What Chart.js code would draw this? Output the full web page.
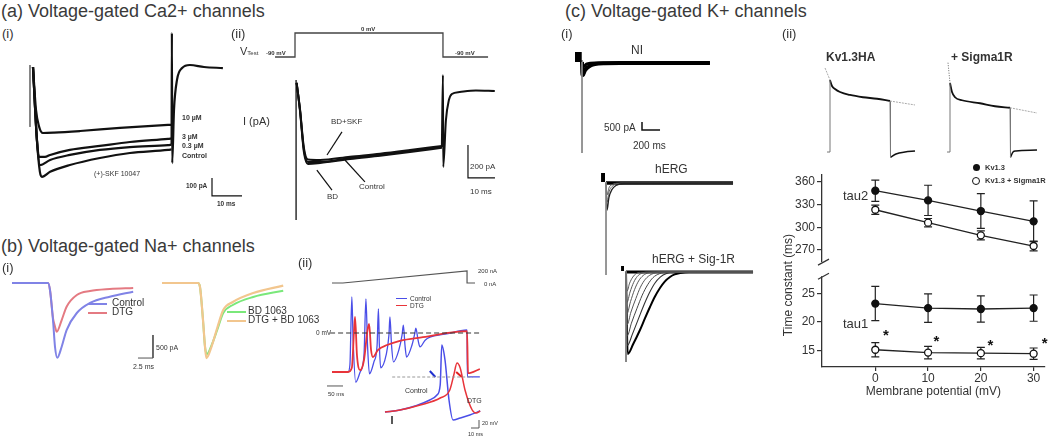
<!DOCTYPE html>
<html>
<head>
<meta charset="utf-8">
<script src="https://cdn.jsdelivr.net/npm/chart.js@4.4.1/dist/chart.umd.min.js"></script>
<style>
  body { margin: 0; background: #fff; }
  #fig { position: relative; width: 1050px; height: 439px; overflow: hidden; font-family: "Liberation Sans", Arial, sans-serif; color: #333; }
  canvas { position: absolute; }
  .t { position: absolute; white-space: nowrap; line-height: 1; z-index: 2; }
  .h { font-size: 18px; color: #3a3a3a; }
  .s { font-size: 13px; color: #333; }
  .b { font-weight: bold; }
  .sw { position: absolute; height: 0; width: 19px; border-top: 2px solid; z-index: 2; }
</style>
</head>
<body>
<div id="fig">

  <!-- trace panels -->
  <canvas id="caChart" width="225" height="190" style="left:20px;top:25px"></canvas>
  <canvas id="vStepChart" width="225" height="40" style="left:270px;top:25px"></canvas>
  <canvas id="caCurrentChart" width="230" height="155" style="left:270px;top:70px"></canvas>
  <canvas id="naLeftChart" width="155" height="95" style="left:5px;top:270px"></canvas>
  <canvas id="naRightChart" width="135" height="95" style="left:155px;top:270px"></canvas>
  <canvas id="rampChart" width="165" height="25" style="left:320px;top:265px"></canvas>
  <canvas id="apChart" width="165" height="100" style="left:320px;top:290px"></canvas>
  <canvas id="apInsetChart" width="105" height="95" style="left:380px;top:335px"></canvas>
  <canvas id="niChart" width="145" height="115" style="left:570px;top:45px"></canvas>
  <canvas id="hergChart" width="145" height="115" style="left:595px;top:165px"></canvas>
  <canvas id="hergSigChart" width="145" height="115" style="left:615px;top:255px"></canvas>
  <canvas id="kvChart" width="110" height="110" style="left:815px;top:55px"></canvas>
  <canvas id="kvSigChart" width="110" height="110" style="left:935px;top:55px"></canvas>
  <canvas id="tauChart" width="270" height="279" style="left:780px;top:160px"></canvas>

  <!-- headings -->
  <div class="t h" style="left:1px;top:2px">(a) Voltage-gated Ca2+ channels</div>
  <div class="t h" style="left:1px;top:237px">(b) Voltage-gated Na+ channels</div>
  <div class="t h" style="left:565px;top:2px">(c) Voltage-gated K+ channels</div>
  <div class="t s" style="left:2px;top:27px">(i)</div>
  <div class="t s" style="left:231px;top:27px">(ii)</div>
  <div class="t s" style="left:2px;top:261px">(i)</div>
  <div class="t s" style="left:298px;top:256px">(ii)</div>
  <div class="t s" style="left:561px;top:27px">(i)</div>
  <div class="t s" style="left:782px;top:27px">(ii)</div>

  <!-- (a)(i) -->
  <div class="t b" style="left:182px;top:114px;font-size:7px">10 µM</div>
  <div class="t b" style="left:182px;top:133px;font-size:7px">3 µM</div>
  <div class="t b" style="left:182px;top:142px;font-size:7px">0.3 µM</div>
  <div class="t b" style="left:182px;top:152px;font-size:7px">Control</div>
  <div class="t" style="left:94px;top:170px;font-size:7px">(+)-SKF 10047</div>
  <div class="t b" style="left:186px;top:183px;font-size:6.5px">100 pA</div>
  <div class="t b" style="left:217px;top:201px;font-size:6.5px">10 ms</div>

  <!-- (a)(ii) -->
  <div class="t" style="left:240px;top:46px;font-size:11px">V<span style="font-size:6px">Test</span></div>
  <div class="t b" style="left:266px;top:50px;font-size:6px">-90 mV</div>
  <div class="t b" style="left:361px;top:26px;font-size:6px">0 mV</div>
  <div class="t b" style="left:455px;top:50px;font-size:6px">-90 mV</div>
  <div class="t" style="left:243px;top:116px;font-size:11px">I (pA)</div>
  <div class="t" style="left:331px;top:118px;font-size:8px">BD+SKF</div>
  <div class="t" style="left:359px;top:183px;font-size:8px">Control</div>
  <div class="t" style="left:327px;top:193px;font-size:8px">BD</div>
  <div class="t" style="left:470px;top:163px;font-size:8px">200 pA</div>
  <div class="t" style="left:470px;top:188px;font-size:8px">10 ms</div>

  <!-- (b)(i) -->
  <div class="sw" style="left:88px;top:303px;border-color:#8083e6"></div>
  <div class="t" style="left:112px;top:298px;font-size:10px">Control</div>
  <div class="sw" style="left:88px;top:312px;border-color:#e47a82"></div>
  <div class="t" style="left:112px;top:307px;font-size:10px">DTG</div>
  <div class="sw" style="left:227px;top:311px;border-color:#7ae87a"></div>
  <div class="t" style="left:248px;top:306px;font-size:10px">BD 1063</div>
  <div class="sw" style="left:227px;top:320px;border-color:#f2c68e"></div>
  <div class="t" style="left:248px;top:315px;font-size:10px">DTG + BD 1063</div>
  <div class="t" style="left:156px;top:344px;font-size:7px">500 pA</div>
  <div class="t" style="left:133px;top:363px;font-size:7px">2.5 ms</div>

  <!-- (b)(ii) -->
  <div class="t" style="left:478px;top:268px;font-size:6px">200 nA</div>
  <div class="t" style="left:484px;top:281px;font-size:6px">0 nA</div>
  <div class="t" style="left:316px;top:330px;font-size:6.5px">0 mV</div>
  <div class="sw" style="left:396px;top:298px;width:11px;border-top-width:1px;border-color:#4a4ee8"></div>
  <div class="t" style="left:410px;top:296px;font-size:6.5px">Control</div>
  <div class="sw" style="left:396px;top:305px;width:11px;border-top-width:1px;border-color:#e8343a"></div>
  <div class="t" style="left:410px;top:303px;font-size:6.5px">DTG</div>
  <div class="t" style="left:328px;top:391px;font-size:6px">50 ms</div>
  <div class="t" style="left:405px;top:387px;font-size:7px">Control</div>
  <div class="t" style="left:467px;top:397px;font-size:7px">DTG</div>
  <div class="t" style="left:482px;top:421px;font-size:5.5px">20 mV</div>
  <div class="t" style="left:468px;top:432px;font-size:5.5px">10 ms</div>

  <!-- (c)(i) -->
  <div class="t" style="left:631px;top:44px;font-size:12px">NI</div>
  <div class="t" style="left:604px;top:123px;font-size:10px">500 pA</div>
  <div class="t" style="left:633px;top:141px;font-size:10px">200 ms</div>
  <div class="t" style="left:655px;top:163px;font-size:12px">hERG</div>
  <div class="t" style="left:652px;top:253px;font-size:12px">hERG + Sig-1R</div>

  <!-- (c)(ii) -->
  <div class="t b" style="left:826px;top:51px;font-size:12px">Kv1.3HA</div>
  <div class="t b" style="left:951px;top:51px;font-size:12px">+ Sigma1R</div>
  <div class="t" style="left:843px;top:189px;font-size:13px">tau2</div>
  <div class="t" style="left:843px;top:317px;font-size:13px">tau1</div>
  <div class="t" style="left:788px;top:285px;font-size:12px;transform:translate(-50%,-50%) rotate(-90deg);">Time constant (ms)</div>
  <div class="t" style="left:973px;top:164px;width:7px;height:7px;border-radius:50%;background:#111"></div>
  <div class="t b" style="left:985px;top:164px;font-size:7.5px">Kv1.3</div>
  <div class="t" style="left:972px;top:177px;width:6px;height:6px;border-radius:50%;border:1.2px solid #111;background:#fff"></div>
  <div class="t b" style="left:985px;top:177px;font-size:7.5px">Kv1.3 + Sigma1R</div>
</div>

<script>
Chart.defaults.font.family = '"Liberation Sans", Arial, sans-serif';

// ---------- (c)(ii) time constants ----------
const membranePotential = [0, 10, 20, 30];
const tau2Kv = [348.5, 335.7, 321.6, 308];
const tau2KvErr = [14, 20, 23, 27];
const tau2Sig = [323.3, 306.2, 289.4, 275.3];
const tau2SigErr = [6, 5.5, 6, 6.5];
const tau1Kv = [23.2, 22.4, 22.25, 22.4];
const tau1KvErr = [3, 2.5, 2.3, 2.3];
const tau1Sig = [15.1, 14.6, 14.5, 14.4];
const tau1SigErr = [1.25, 1.1, 1, 1];
const xTicks = [0, 10, 20, 30];
const tau2Ticks = [270, 300, 330, 360];
const tau1Ticks = [15, 20, 25];
const starX = [2, 11.6, 21.8, 32.1];
const starY = [18, 17, 16.3, 16.6];
const breakTop = 254;      // last value shown on the upper segment
const breakBottom = 28;    // first value shown on the lower segment

// ---------- (a)(i) Ca2+ currents (ms, pA) ----------
const caArtifact = [[0, 11], [0, -333]];
const caControl = [[1, 0], [2.3, -405], [3.3, -583], [4, -611], [6.7, -583], [13.3, -545], [23.3, -506], [33.3, -478], [46, -461], [47.2, -458]];
const ca03 = [[1, 0], [2.3, -405], [3.3, -545], [6.7, -517], [13.3, -489], [23.3, -461], [33.3, -445], [46, -434], [47.2, -432]];
const ca3 = [[1, 0], [2.3, -400], [3, -500], [5, -500], [6.7, -489], [13.3, -461], [23.3, -439], [33.3, -417], [46, -400], [47.2, -398]];
const ca10 = [[1, 0], [2, -239], [3, -330], [4.3, -367], [8, -365], [16.7, -356], [30, -339], [46, -322], [47.2, -321]];
const caTail = [[47.2, -430], [47.3, 189], [47.4, -534], [48, -239], [49, -72], [50.7, -6], [53.3, 11], [58, 0], [64.3, -6]];
const caScaleBar = [[60.67, -617], [60.67, -717], [70.67, -717]];

// ---------- (a)(ii) voltage step (ms, mV) and current (ms, pA) ----------
const vStep = [[-7.4, -90], [0, -90], [0, 0], [54.8, 0], [54.8, -90], [71.5, -90]];
const iArtifact = [[0.4, 67], [0.4, -782]];
const iControl = [[0.6, 50], [1.85, -115], [3.3, -358], [4.8, -430], [9.3, -430], [20.4, -406], [31.5, -388], [42.6, -364], [54.4, -339]];
const iBD = [[0.6, 50], [1.85, -120], [3.3, -370], [4.8, -442], [9.3, -436], [20.4, -412], [31.5, -392], [42.6, -370], [54.4, -344]];
const iBDSKF = [[0.6, 50], [1.85, -110], [3.3, -345], [4.8, -415], [9.3, -418], [20.4, -398], [31.5, -380], [42.6, -358], [54.4, -333]];
const iTail = [[54.4, -339], [54.8, 97], [54.9, -460], [55.9, -176], [57, -55], [58.1, -18], [61, -6], [67, 3], [74, 0]];
const iScaleBar = [[64.07, -327], [64.07, -527], [74.07, -527]];
const arrowBDSKF = [[17.4, -248], [11.85, -388]];
const arrowControl = [[25.9, -551], [18.5, -418]];
const arrowBD = [[13.7, -600], [8.1, -479]];

// ---------- (b)(i) Na+ currents (ms, pA) ----------
const naControl = [[-6, 0], [0, 0], [0.33, -152], [0.83, -803], [1.17, -1389], [1.55, -1620], [2.28, -1382], [3.1, -1020], [4.8, -651], [7, -434], [10.3, -297], [14.2, -188]];
const naDTG = [[-6, 0], [0, 0], [0.33, -152], [0.83, -760], [1.17, -948], [1.45, -1057], [2.28, -803], [3.1, -514], [4.8, -260], [7, -174], [10.3, -130], [14.2, -108]];
const naBD = [[-6, 0], [0, 0], [0.33, -87], [0.83, -803], [1.17, -1389], [1.5, -1540], [2.2, -1370], [3.2, -1020], [4.2, -651], [5.8, -477], [9.2, -304], [14.2, -167]];
const naDTGBD = [[-6, 0], [0, 0], [0.33, -87], [0.83, -803], [1.17, -1389], [1.4, -1628], [2.2, -1400], [3.2, -976], [4.2, -586], [5.8, -412], [9.2, -217], [14.2, -58]];
const naScaleBar = [[17.5, -1128], [17.5, -1628], [15, -1628]];

// ---------- (b)(ii) current ramp (ms, nA) and action potentials (ms, mV) ----------
const ramp = [[0, 0], [34, 0], [422, 200], [422, 0], [447, 0]];
const zeroMv = [[-6, 0], [462, 0]];
const apControl = [[0, -65], [50, -65], [56, -53], [62, 60], [66, -12], [74, -82], [88, -65], [100, -37], [106, 57], [111, -20], [117, -68], [131, -48], [141, -20], [145, 40], [148, -20], [152, -58], [169, -37], [178, -3], [181, 27], [186, -20], [192, -48], [209, -28], [219, -3], [223, 13], [228, -20], [233, -40], [250, -20], [259, 0], [262, 8], [269, -12], [275, -23], [291, -12], [306, -7], [353, -2], [422, 5], [423, -73], [462, -73]];
const apDTG = [[0, -65], [50, -65], [62, -58], [69, 5], [72, 27], [78, -37], [88, -62], [100, -45], [111, 5], [116, 15], [122, -28], [128, -40], [144, -28], [172, -20], [212, -13], [284, -7], [422, 3], [425, -67], [462, -60]];
const apScaleBar = [[-15.6, -88.3], [34.4, -88.3]];
const insetThreshold = [[9, 0], [110, 0]];
const insetControl = [[0, -87.5], [18.75, -82.5], [37.5, -72.5], [56, -57.5], [65, -45], [69, -20], [71, 80], [75, 42.5], [80, -57.5], [85, -107.5], [94, -102.5], [106, -95], [119, -85]];
const insetDTG = [[0, -87.5], [18.75, -82.5], [44, -70], [69, -52.5], [81, -32.5], [86, 5], [90, 35], [94, 22.5], [100, -32.5], [109, -82.5], [114, -90], [119, -85]];
const insetControlMark = [[56, 15], [63, 0]];
const insetDTGMark = [[89, 12.5], [96, 0]];
const insetArrow = [[8.75, -117.5], [8.75, -97.5]];
const insetScaleBar = [[107.5, -127.5], [117.5, -127.5], [117.5, -107.5]];

// ---------- (c)(i) K+ currents (ms, pA) ----------
const niPulse = [[-78, 312], [-3, 312]];
const niStep = [[0, 125], [0, -5687]];
const niTrace = [[0, 0], [5, -812], [11, -810], [30, -550], [55, -375], [100, -200], [144, -125], [250, -75], [422, -62], [1420, -62]];
const niTrace2 = [[0, 0], [11, -300], [55, -120], [144, -62], [1420, -62]];
const niScaleBar = [[666, -3750], [666, -4250], [866, -4250]];
const hergPulse = [[-55, 344], [-11, 344]];
const hergStep = [[0, 60], [0, -5750]];
const herg1 = [[0, 0], [11, -1700], [33, -900], [67, -400], [111, -150], [200, -30], [1410, 0]];
const herg2 = [[0, 0], [11, -1200], [33, -560], [67, -220], [111, -70], [200, -10], [1410, 0]];
const herg3 = [[0, 0], [11, -750], [33, -300], [67, -100], [150, -10], [1410, 0]];
const hergSigPulse = [[-55, 219], [-22, 219]];
const hergSigStep = [[0, 60], [0, -5625]];
const hergSig1 = [[0, 0], [19, -5125], [80, -4500], [155, -3625], [210, -2900], [266, -2190], [320, -1550], [377, -1000], [430, -600], [488, -312], [540, -150], [600, -62], [700, 0], [1410, 0]];
const hergSig2 = [[0, 0], [15, -4600], [70, -3900], [140, -2900], [200, -2050], [260, -1300], [320, -700], [380, -320], [450, -100], [530, -20], [1410, 0]];
const hergSig3 = [[0, 0], [13, -4000], [60, -3200], [120, -2300], [180, -1450], [240, -800], [300, -350], [370, -110], [460, 0], [1410, 0]];
const hergSig4 = [[0, 0], [12, -3300], [55, -2500], [110, -1650], [160, -950], [215, -450], [280, -150], [390, 0], [1410, 0]];
const hergSig5 = [[0, 0], [11, -2600], [50, -1850], [95, -1100], [140, -560], [190, -220], [250, -50], [330, 0], [1410, 0]];
const hergSig6 = [[0, 0], [11, -1900], [45, -1250], [85, -650], [125, -280], [170, -90], [240, 0], [1410, 0]];
const hergSig7 = [[0, 0], [11, -1200], [40, -700], [75, -320], [110, -110], [160, -20], [1410, 0]];

// ---------- (c)(ii) example Kv1.3 traces (ms, normalised current) ----------
const kvSteps = [[-60, 0.04], [0, 0.04], [0, 1]];
const kvDecay = [[0, 1], [40, 0.92], [100, 0.88], [200, 0.84], [400, 0.8], [660, 0.77], [940, 0.75], [1200, 0.72]];
const kvOff = [[1200, 0.72], [1210, -0.03]];
const kvTail = [[1210, -0.03], [1320, 0.013], [1500, 0.04], [1700, 0.053]];
const kvFitStart = [[-100, 1.16], [0, 1]];
const kvFitEnd = [[1200, 0.72], [1700, 0.667]];
const sigSteps = [[-60, 0.04], [0, 0.04], [0, 0.96]];
const sigDecay = [[0, 0.96], [40, 0.84], [100, 0.77], [240, 0.73], [600, 0.69], [900, 0.65], [1200, 0.63]];
const sigOff = [[1200, 0.63], [1210, -0.03]];
const sigTail = [[1210, -0.03], [1260, 0.04], [1320, 0.053], [1740, 0.067]];
const sigFitStart = [[-40, 1.23], [0, 0.96]];
const sigFitEnd = [[1200, 0.63], [1740, 0.56]];

function traceChart(id, xRange, yRange, sets) {
    new Chart(document.getElementById(id), {
        type: "line",
        data: {
            datasets: sets.map(s => ({
                data: s.pts.map(p => ({ x: p[0], y: p[1] })),
                borderColor: s.color || "#111",
                borderWidth: s.w || 1.5,
                borderDash: s.dash || [],
                borderCapStyle: "butt",
                pointRadius: 0,
                cubicInterpolationMode: s.smooth ? "monotone" : "default",
                fill: false,
                clip: false
            }))
        },
        options: {
            responsive: false,
            animation: false,
            events: [],
            layout: { padding: 0 },
            plugins: { legend: { display: false }, tooltip: { enabled: false } },
            scales: {
                x: { type: "linear", display: false, min: xRange[0], max: xRange[1] },
                y: { type: "linear", display: false, min: yRange[0], max: yRange[1] }
            }
        }
    });
}

traceChart("caChart", [-3.33, 71.67], [-822.9, 233.5], [
    { pts: caArtifact, color: "#777", w: 1 },
    { pts: ca10, w: 2.2, smooth: true },
    { pts: ca3, w: 2.2, smooth: true },
    { pts: ca03, w: 2.2, smooth: true },
    { pts: caControl, w: 2.2, smooth: true },
    { pts: caTail, w: 2.2, smooth: true },
    { pts: caScaleBar, w: 1.2 }
]);

traceChart("vStepChart", [-9.26, 74.07], [-120, 30], [
    { pts: vStep, color: "#444", w: 1.3 }
]);

traceChart("caCurrentChart", [-9.26, 75.93], [-812, 127.3], [
    { pts: iArtifact, w: 1.3 },
    { pts: iBD, w: 2, smooth: true },
    { pts: iBDSKF, w: 2, smooth: true },
    { pts: iControl, w: 2, smooth: true },
    { pts: iTail, w: 2, smooth: true },
    { pts: iScaleBar, w: 1.2 },
    { pts: arrowBDSKF, w: 1.2 },
    { pts: arrowControl, w: 1.2 },
    { pts: arrowBD, w: 1.2 }
]);

traceChart("naLeftChart", [-7.17, 18.67], [-1779, 282], [
    { pts: naControl, color: "#8083e6", w: 2, smooth: true },
    { pts: naDTG, color: "#e47a82", w: 2, smooth: true },
    { pts: naScaleBar, color: "#555", w: 1 }
]);

traceChart("naRightChart", [-7.17, 15.33], [-1779, 282], [
    { pts: naDTGBD, color: "#f2c68e", w: 2.2, smooth: true },
    { pts: naBD, color: "#7ae87a", w: 2, smooth: true }
]);

traceChart("rampChart", [-37.5, 478.1], [-116.7, 300], [
    { pts: ramp, color: "#555", w: 1.2 }
]);

traceChart("apChart", [-37.5, 478.1], [-95, 71.7], [
    { pts: zeroMv, color: "#333", w: 1.2, dash: [5, 3] },
    { pts: apDTG, color: "#e8343a", w: 1.8, smooth: true },
    { pts: apControl, color: "#4a4ee8", w: 1.3, smooth: true },
    { pts: apScaleBar, color: "#555", w: 1 }
]);

traceChart("apInsetChart", [-6.25, 125], [-132.5, 105], [
    { pts: insetThreshold, color: "#999", w: 1, dash: [3, 2] },
    { pts: insetDTG, color: "#e8343a", w: 1.5, smooth: true },
    { pts: insetControl, color: "#4a4ee8", w: 1.5, smooth: true },
    { pts: insetControlMark, color: "#2030d0", w: 2 },
    { pts: insetDTGMark, color: "#e02020", w: 2 },
    { pts: insetArrow, color: "#222", w: 1.5 },
    { pts: insetScaleBar, color: "#555", w: 1 }
]);

traceChart("niChart", [-133.2, 1476.3], [-6125, 1062.5], [
    { pts: niPulse, color: "#000", w: 10 },
    { pts: niStep, color: "#888", w: 1 },
    { pts: niTrace2, color: "#000", w: 3, smooth: true },
    { pts: niTrace, color: "#000", w: 4, smooth: true },
    { pts: niScaleBar, color: "#111", w: 1.5 }
]);

traceChart("hergChart", [-122.1, 1487.4], [-6062.5, 1125], [
    { pts: hergPulse, color: "#000", w: 9 },
    { pts: hergStep, color: "#888", w: 1 },
    { pts: herg1, color: "#222", w: 1.3, smooth: true },
    { pts: herg2, color: "#666", w: 1, smooth: true },
    { pts: herg3, color: "#555", w: 1, smooth: true },
    { pts: [[0, 0], [1410, 0]], color: "#000", w: 3.5 }
]);

traceChart("hergSigChart", [-122.1, 1487.4], [-6125, 1062.5], [
    { pts: hergSigPulse, color: "#000", w: 5 },
    { pts: hergSigStep, color: "#777", w: 1 },
    { pts: hergSig7, color: "#555", w: 1, smooth: true },
    { pts: hergSig6, color: "#555", w: 1, smooth: true },
    { pts: hergSig5, color: "#555", w: 1, smooth: true },
    { pts: hergSig4, color: "#555", w: 1, smooth: true },
    { pts: hergSig3, color: "#444", w: 1, smooth: true },
    { pts: hergSig2, color: "#333", w: 1.1, smooth: true },
    { pts: hergSig1, color: "#000", w: 2, smooth: true },
    { pts: [[0, 0], [1410, 0]], color: "#000", w: 3 }
]);

traceChart("kvChart", [-300, 1900], [-0.133, 1.333], [
    { pts: kvFitStart, color: "#aaa", w: 1, dash: [2, 1] },
    { pts: kvFitEnd, color: "#aaa", w: 1, dash: [2, 1] },
    { pts: kvSteps, color: "#777", w: 1 },
    { pts: kvOff, color: "#777", w: 1 },
    { pts: kvDecay, color: "#111", w: 1.8, smooth: true },
    { pts: kvTail, color: "#111", w: 1.5, smooth: true }
]);

traceChart("kvSigChart", [-300, 1900], [-0.133, 1.333], [
    { pts: sigFitStart, color: "#666", w: 1, dash: [1, 1.5] },
    { pts: sigFitEnd, color: "#aaa", w: 1, dash: [2, 1] },
    { pts: sigSteps, color: "#777", w: 1 },
    { pts: sigOff, color: "#777", w: 1 },
    { pts: sigDecay, color: "#111", w: 1.8, smooth: true },
    { pts: sigTail, color: "#111", w: 1.5, smooth: true }
]);

// ---------- main chart: broken y axis with error bars ----------
const errorBars = {
    id: "errorBars",
    beforeDatasetsDraw(chart) {
        const ctx = chart.ctx;
        ctx.save();
        ctx.strokeStyle = "#222";
        ctx.lineWidth = 1.2;
        chart.data.datasets.forEach((ds, i) => {
            const ys = chart.scales[ds.yAxisID];
            chart.getDatasetMeta(i).data.forEach((pt, j) => {
                const v = ds.data[j].y, e = ds.errors[j];
                const top = ys.getPixelForValue(v + e), bot = ys.getPixelForValue(v - e);
                ctx.beginPath();
                ctx.moveTo(pt.x, top); ctx.lineTo(pt.x, bot);
                ctx.moveTo(pt.x - 4, top); ctx.lineTo(pt.x + 4, top);
                ctx.moveTo(pt.x - 4, bot); ctx.lineTo(pt.x + 4, bot);
                ctx.stroke();
            });
        });
        ctx.restore();
    },
    afterDatasetsDraw(chart) {
        const ctx = chart.ctx, x = chart.scales.x, yb = chart.scales.yb;
        ctx.save();
        ctx.fillStyle = "#111";
        ctx.font = "bold 15px 'Liberation Sans', Arial, sans-serif";
        ctx.textAlign = "center";
        ctx.textBaseline = "middle";
        starX.forEach((sx, k) => {
            ctx.fillText("*", x.getPixelForValue(sx), yb.getPixelForValue(starY[k]) + 3);
        });
        ctx.restore();
    },
    afterDraw(chart) {
        const ctx = chart.ctx, left = chart.chartArea.left;
        const gTop = chart.scales.yt.getPixelForValue(breakTop);
        const gBot = chart.scales.yb.getPixelForValue(breakBottom);
        ctx.save();
        ctx.fillStyle = "#fff";
        ctx.fillRect(left - 2, gTop, 4, gBot - gTop);
        ctx.strokeStyle = "#333";
        ctx.lineWidth = 1.2;
        ctx.beginPath();
        ctx.moveTo(left - 4, gTop + 3); ctx.lineTo(left + 7, gTop - 3);
        ctx.moveTo(left - 4, gBot + 3); ctx.lineTo(left + 7, gBot - 3);
        ctx.stroke();
        ctx.restore();
    }
};

const axisFont = { size: 12 };

function yScale(min, max, weight, ticks) {
    return {
        type: "linear",
        position: "left",
        stack: "tau",
        stackWeight: weight,
        min: min,
        max: max,
        afterBuildTicks: s => { s.ticks = ticks.map(v => ({ value: v })); },
        afterFit: s => { s.width = 42; },
        grid: { drawOnChartArea: false, drawTicks: true, tickLength: 5, color: "#333", lineWidth: 1.2 },
        border: { display: true, color: "#333", width: 1.3 },
        ticks: { font: axisFont, color: "#333", padding: 2 }
    };
}

function series(label, xs, ys, errs, axis, fillColor) {
    return {
        label: label,
        data: xs.map((v, i) => ({ x: v, y: ys[i] })),
        errors: errs,
        yAxisID: axis,
        borderColor: "#222",
        borderWidth: 1.3,
        pointRadius: 3.5,
        pointBorderWidth: 1.3,
        pointBackgroundColor: fillColor,
        pointBorderColor: "#111",
        fill: false
    };
}

new Chart(document.getElementById("tauChart"), {
    type: "line",
    data: {
        datasets: [
            series("Kv1.3", membranePotential, tau2Kv, tau2KvErr, "yt", "#111"),
            series("Kv1.3 + Sigma1R", membranePotential, tau2Sig, tau2SigErr, "yt", "#fff"),
            series("Kv1.3 tau1", membranePotential, tau1Kv, tau1KvErr, "yb", "#111"),
            series("Kv1.3 + Sigma1R tau1", membranePotential, tau1Sig, tau1SigErr, "yb", "#fff")
        ]
    },
    options: {
        responsive: false,
        animation: false,
        events: [],
        layout: { padding: { left: 0, right: 3, top: 15, bottom: 36 } },
        plugins: { legend: { display: false }, tooltip: { enabled: false } },
        scales: {
            x: {
                type: "linear",
                min: -10.1,
                max: 32.1,
                afterBuildTicks: s => { s.ticks = xTicks.map(v => ({ value: v })); },
                afterFit: s => { s.height = 36; },
                grid: { drawOnChartArea: false, drawTicks: true, tickLength: 4, color: "#333", lineWidth: 1.2 },
                border: { display: true, color: "#333", width: 1.3 },
                ticks: { font: axisFont, color: "#333", padding: 0 },
                title: { display: true, text: "Membrane potential (mV)", font: { size: 12 }, color: "#333", padding: { top: 2, bottom: 4 } }
            },
            yb: yScale(12.07, 29.44, 99, tau1Ticks),
            yt: yScale(246.2, 369.3, 93, tau2Ticks)
        }
    },
    plugins: [errorBars]
});
</script>
</body>
</html>
